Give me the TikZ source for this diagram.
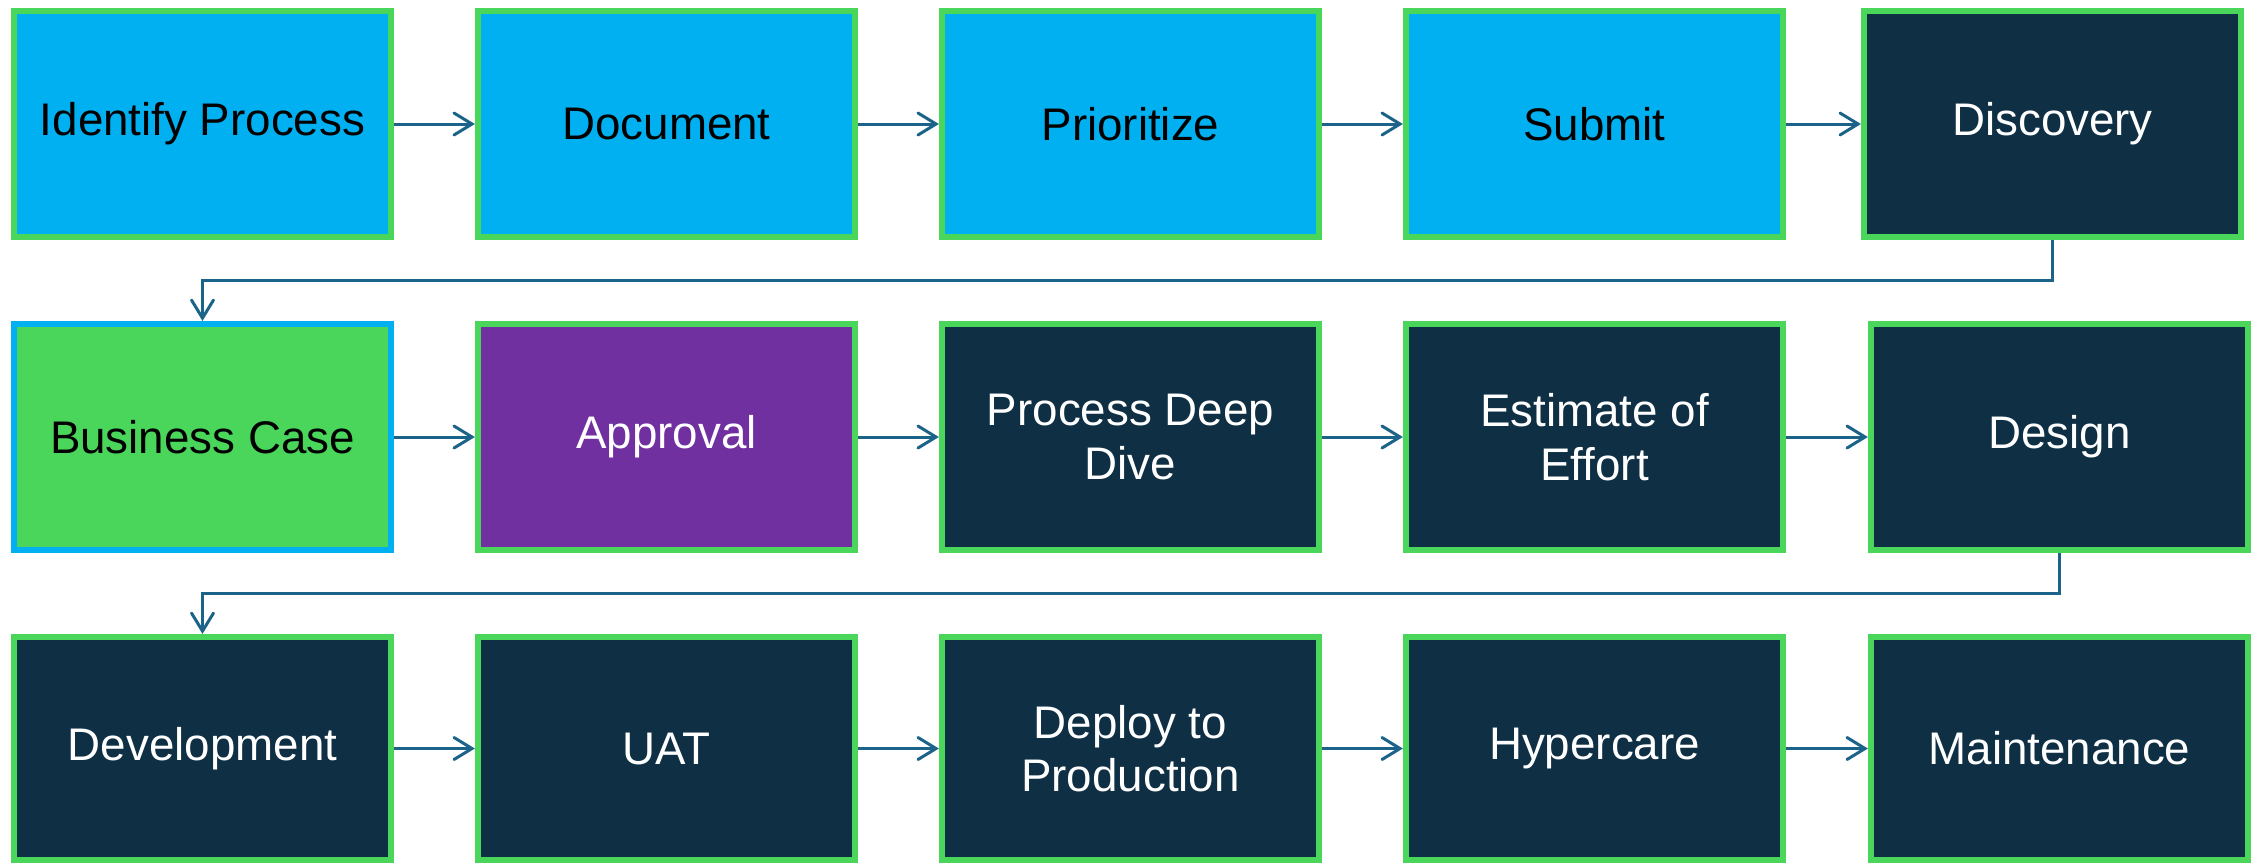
\documentclass[tikz,border=0pt]{standalone}
\usepackage{fontspec}
\setmainfont{Liberation Sans}
\usetikzlibrary{arrows.meta}
\definecolor{boxblue}{HTML}{00B0F0}
\definecolor{boxgreen}{HTML}{4AD55B}
\definecolor{navy}{HTML}{0E2F44}
\definecolor{purp}{HTML}{7030A0}
\definecolor{connc}{HTML}{1B6388}
\begin{document}
\begin{tikzpicture}[x=0.01cm,y=-0.01cm,
  stepbox/.style={draw=boxgreen, line width=0.06cm, fill=navy, text=white,
    minimum width=3.77cm, minimum height=2.26cm, align=center, inner sep=0pt,
    font=\fontsize{13}{15.2}\selectfont},
  lowbox/.style={stepbox, minimum height=2.23cm},
  bluebox/.style={stepbox, fill=boxblue, text=black},
  greenbox/.style={stepbox, fill=boxgreen, draw=boxblue, text=black},
  purplebox/.style={stepbox, fill=purp},
  conn/.style={draw=connc, line width=0.03cm,
    -{Straight Barb[length=1.8mm, width=2.2mm, line cap=round]}}
]
\useasboundingbox (0,0) rectangle (2261,863);
% row 1
\node[bluebox] (idp) at (202.5,124) {Identify Process};
\node[bluebox] (doc) at (666.5,124) {Document};
\node[bluebox] (pri) at (1130.5,124) {Prioritize};
\node[bluebox] (sub) at (1594.5,124) {Submit};
\node[stepbox] (dis) at (2052.5,124) {Discovery};
% row 2
\node[greenbox] (bus) at (202.5,437) {Business Case};
\node[purplebox] (app) at (666.5,437) {Approval};
\node[stepbox] (pdd) at (1130.5,437) {Process Deep\\Dive};
\node[stepbox] (est) at (1594.5,437) {Estimate of\\Effort};
\node[stepbox] (des) at (2059.5,437) {Design};
% row 3
\node[lowbox] (dev) at (202.5,748.5) {Development};
\node[lowbox] (uat) at (666.5,748.5) {UAT};
\node[lowbox] (dep) at (1130.5,748.5) {Deploy to\\Production};
\node[lowbox] (hyp) at (1594.5,748.5) {Hypercare};
\node[lowbox] (mai) at (2059.5,748.5) {Maintenance};
% connectors
\draw[conn] (idp) -- (doc);
\draw[conn] (doc) -- (pri);
\draw[conn] (pri) -- (sub);
\draw[conn] (sub) -- (dis);
\draw[conn] (dis.south) -- ++(0,40) -| (bus.north);
\draw[conn] (bus) -- (app);
\draw[conn] (app) -- (pdd);
\draw[conn] (pdd) -- (est);
\draw[conn] (est) -- (des);
\draw[conn] (des.south) -- ++(0,40) -| (dev.north);
\draw[conn] (dev) -- (uat);
\draw[conn] (uat) -- (dep);
\draw[conn] (dep) -- (hyp);
\draw[conn] (hyp) -- (mai);
\end{tikzpicture}
\end{document}
